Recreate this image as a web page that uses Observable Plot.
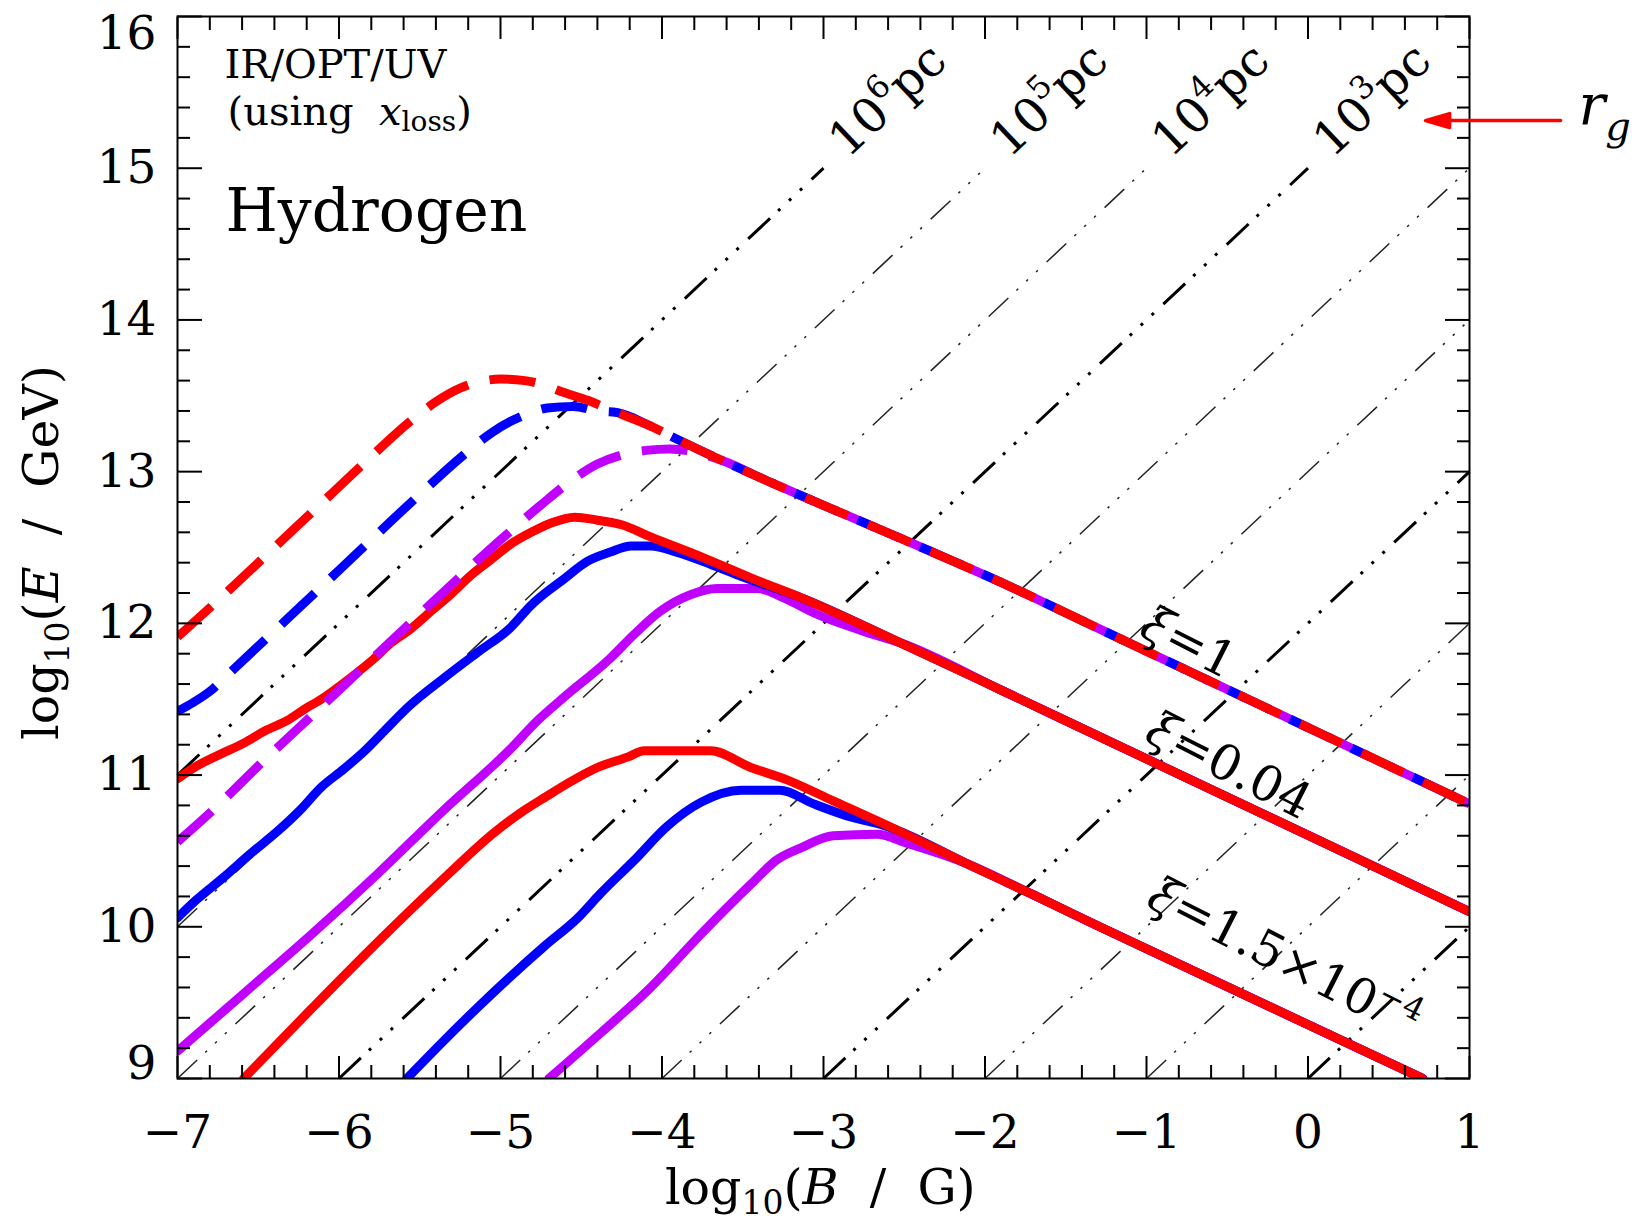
<!DOCTYPE html>
<html>
<head>
<meta charset="utf-8">
<script src="https://cdn.jsdelivr.net/npm/d3@7"></script>
<script src="https://cdn.jsdelivr.net/npm/@observablehq/plot@0.6"></script>
<style>
  html, body { margin: 0; padding: 0; background: #fff; }
  #chart svg { display: block; }
</style>
</head>
<body>
<div id="chart"></div>
<script>
// ---------------- data ----------------
const xDomain = [-7, 1];          // log10(B / G)
const yDomain = [9, 16];          // log10(E / GeV)
const xMajor = [-7, -6, -5, -4, -3, -2, -1, 0, 1];
const yMajor = [9, 10, 11, 12, 13, 14, 15, 16];

// gyroradius lines: log10(r_g / pc); E/B offset for r = 1 pc
const rgLogRadiusPc = [6, 5, 4, 3, 2, 1, 0, -1, -2, -3];
const rgLabelled = [6, 5, 4, 3];
const rgOffset = 12;
const rgTopE = 15;

const colors = {red: "#ff0000", blue: "#0000ff", purple: "#c000ff"};

// xi = 1 (dashed)
const xi1Red = [[-7,11.91],[-6.70,12.20],[-6.41,12.49],[-6.12,12.78],[-5.84,13.06],[-5.56,13.33],[-5.40,13.46],[-5.25,13.55],[-5.14,13.59],[-5.0,13.61],[-4.85,13.60],[-4.73,13.57],[-4.63,13.53],[-4.46,13.47],[-4.28,13.39],[-4.07,13.30],[-3.90,13.21],[-3.35,12.94],[-2.50,12.55],[-1.90,12.27],[-1.285,11.96],[1,10.81]];
const xi1Blue = [[-7,11.42],[-6.9,11.48],[-6.79,11.56],[-6.69,11.66],[-6.0,12.35],[-5.5,12.85],[-5.25,13.09],[-5.05,13.26],[-4.94,13.33],[-4.81,13.39],[-4.71,13.42],[-4.55,13.43],[-4.40,13.40],[-4.28,13.39],[-4.07,13.30],[-3.90,13.21],[-3.35,12.94],[-2.50,12.55],[-1.90,12.27],[-1.285,11.96],[1,10.81]];
const xi1Purple = [[-7,10.56],[-6.8,10.75],[-6.5,11.06],[-6.0,11.56],[-5.5,12.06],[-5.0,12.55],[-4.75,12.78],[-4.55,12.95],[-4.40,13.05],[-4.25,13.11],[-4.10,13.14],[-3.95,13.15],[-3.80,13.13],[-3.62,13.07],[-3.35,12.94],[-2.50,12.55],[-1.90,12.27],[-1.285,11.96],[1,10.81]];

// xi = 0.04 (solid)
const xi004Red = [[-7,10.975],[-6.88,11.06],[-6.73,11.14],[-6.59,11.21],[-6.46,11.29],[-6.32,11.36],[-6.22,11.43],[-6.11,11.50],[-5.93,11.64],[-5.78,11.77],[-5.68,11.87],[-5.56,11.96],[-5.43,12.08],[-5.31,12.19],[-5.18,12.32],[-5.06,12.42],[-4.94,12.52],[-4.81,12.60],[-4.69,12.66],[-4.54,12.70],[-4.40,12.68],[-4.25,12.65],[-4.07,12.57],[-3.76,12.44],[-3.45,12.30],[-3.14,12.17],[-2.52,11.87],[-1.90,11.56],[-1.285,11.25],[1,10.10]];
const xi004Blue = [[-7,10.06],[-6.88,10.18],[-6.71,10.33],[-6.55,10.48],[-6.38,10.63],[-6.24,10.77],[-6.11,10.92],[-5.97,11.04],[-5.84,11.16],[-5.72,11.29],[-5.56,11.46],[-5.35,11.64],[-5.14,11.81],[-4.94,11.97],[-4.81,12.12],[-4.61,12.29],[-4.46,12.41],[-4.32,12.47],[-4.19,12.51],[-4.07,12.51],[-3.91,12.47],[-3.70,12.39],[-3.51,12.31],[-3.14,12.17],[-2.52,11.87],[-1.90,11.56],[-1.285,11.25],[1,10.10]];
const xi004Purple = [[-7,9.18],[-6.59,9.56],[-6.17,9.95],[-5.76,10.35],[-5.35,10.77],[-4.94,11.17],[-4.77,11.36],[-4.61,11.51],[-4.32,11.77],[-4.17,11.93],[-4.01,12.08],[-3.82,12.19],[-3.66,12.23],[-3.41,12.23],[-3.25,12.17],[-3.04,12.06],[-2.73,11.94],[-2.52,11.87],[-1.90,11.56],[-1.285,11.25],[1,10.10]];

// xi = 1.5e-4 (solid)
const xi15Red = [[-6.59,9.0],[-6.17,9.46],[-5.76,9.90],[-5.35,10.32],[-5.04,10.62],[-4.85,10.77],[-4.73,10.85],[-4.56,10.96],[-4.42,11.04],[-4.21,11.12],[-4.11,11.16],[-3.70,11.16],[-3.45,11.05],[-3.23,10.97],[-2.94,10.83],[-2.53,10.63],[-2.12,10.42],[-1.70,10.21],[-1.29,10.00],[0.71,9.0]];
const xi15Blue = [[-5.58,9.0],[-5.35,9.25],[-5.14,9.47],[-4.94,9.67],[-4.73,9.87],[-4.52,10.06],[-4.38,10.22],[-4.17,10.44],[-3.97,10.66],[-3.76,10.82],[-3.51,10.90],[-3.27,10.90],[-3.06,10.81],[-2.82,10.72],[-2.63,10.67],[-2.53,10.63],[-2.12,10.42],[-1.70,10.21],[-1.29,10.00],[0.71,9.0]];
const xi15Purple = [[-4.70,9.0],[-4.38,9.30],[-4.07,9.60],[-3.76,9.95],[-3.45,10.28],[-3.29,10.44],[-3.14,10.52],[-2.94,10.60],[-2.67,10.61],[-2.48,10.55],[-2.22,10.46],[-2.12,10.42],[-1.70,10.21],[-1.29,10.00],[0.71,9.0]];

// labels
const xiLabels = [
  {text: "ξ = 1", x: -0.74, y: 11.87},
  {text: "ξ = 0.04", x: -0.49, y: 11.06},
  {text: "ξ = 1.5×10^-4", x: -0.15, y: 9.79}
];
const panelTexts = [
  {text: "IR/OPT/UV", x: -6.709, y: 15.592, size: 40},
  {text: "(using xloss)", x: -6.69, y: 15.288, size: 40},
  {text: "Hydrogen", x: -6.703, y: 14.589, size: 60}
];
const rgArrow = {x: 1.564, y: 15.314, length: 135};
const rgSymbol = {text: "r_g", x: 1.675, y: 15.29};
const xTitle = {text: "log10(B / G)", x: -3.02, y: 8.17};
const yTitle = {text: "log10(E / GeV)", x: -7.743, y: 12.467};

// ---------------- derived ----------------
const xMinor = d3.range(0, 41).map(i => +(xDomain[0] + i * 0.2).toFixed(1)).filter(v => !Number.isInteger(v));
const yMinor = d3.range(0, 36).map(i => +(yDomain[0] + i * 0.2).toFixed(1)).filter(v => !Number.isInteger(v));

const rgSegs = rgLogRadiusPc.map(lr => {
  const c = lr + rgOffset;
  const x1 = Math.max(xDomain[0], yDomain[0] - c);
  const x2 = Math.min(xDomain[1], rgTopE - c);
  return {lr, x1, y1: x1 + c, x2, y2: x2 + c, bold: lr % 3 === 0};
});

const W = 9;
function curveMark(pts, color, dashed) {
  const o = {x: d => d[0], y: d => d[1], stroke: color, strokeWidth: W, curve: "monotone-x", clip: true, strokeLinejoin: "round"};
  if (dashed) { o.strokeDasharray = "46,22"; o.strokeLinecap = "butt"; }
  else { o.strokeLinecap = "round"; }
  return Plot.line(pts, o);
}

const fs = 47;
const chart = Plot.plot({
  width: 1632, height: 1224,
  marginLeft: 177, marginRight: 163, marginTop: 16, marginBottom: 146,
  x: {domain: xDomain},
  y: {domain: yDomain},
  style: {fontFamily: "'DejaVu Serif', serif", background: "#fff", color: "#000"},
  marks: [
    // gyroradius lines
    Plot.link(rgSegs.filter(d => !d.bold), {x1: "x1", y1: "y1", x2: "x2", y2: "y2", stroke: "#222", strokeWidth: 1.5, strokeDasharray: "27,11,2.5,11,2.5,11,2.5,12"}),
    Plot.link(rgSegs.filter(d => d.bold), {x1: "x1", y1: "y1", x2: "x2", y2: "y2", stroke: "#000", strokeWidth: 3, strokeDasharray: "30,11,3,12,3,12,3,13"}),
    // solid curves
    curveMark(xi15Purple, colors.purple), curveMark(xi15Blue, colors.blue), curveMark(xi15Red, colors.red),
    curveMark(xi004Purple, colors.purple), curveMark(xi004Blue, colors.blue), curveMark(xi004Red, colors.red),
    // dashed curves
    curveMark(xi1Purple, colors.purple, true), curveMark(xi1Blue, colors.blue, true), curveMark(xi1Red, colors.red, true),
    // frame and ticks
    Plot.frame({stroke: "#000", strokeWidth: 2}),
    Plot.axisX(xMajor, {anchor: "bottom", tickSize: -22, strokeWidth: 2, fill: "none", label: null}),
    Plot.axisX(xMinor, {anchor: "bottom", tickSize: -13, strokeWidth: 2, fill: "none", label: null}),
    Plot.axisX(xMajor, {anchor: "top", tickSize: -22, strokeWidth: 2, fill: "none", label: null}),
    Plot.axisX(xMinor, {anchor: "top", tickSize: -13, strokeWidth: 2, fill: "none", label: null}),
    Plot.axisY(yMajor, {anchor: "left", tickSize: -25, strokeWidth: 2, fill: "none", label: null}),
    Plot.axisY(yMinor, {anchor: "left", tickSize: -13, strokeWidth: 2, fill: "none", label: null}),
    Plot.axisY(yMajor, {anchor: "right", tickSize: -25, strokeWidth: 2, fill: "none", label: null}),
    Plot.axisY(yMinor, {anchor: "right", tickSize: -13, strokeWidth: 2, fill: "none", label: null}),
    // tick labels
    Plot.axisX(xMajor, {anchor: "bottom", tickSize: 0, tickPadding: 36, fontSize: fs, label: null, tickFormat: d3.format("d")}),
    Plot.text(yMajor.filter(v => v > yDomain[0] && v < yDomain[1]), {x: xDomain[0], y: d => d, text: d => String(d), dx: -21, textAnchor: "end", lineAnchor: "middle", fontSize: fs}),
    Plot.text(yMajor.filter(v => v === yDomain[1]), {x: xDomain[0], y: d => d, text: d => String(d), dx: -21, dy: 17, textAnchor: "end", lineAnchor: "middle", fontSize: fs}),
    Plot.text(yMajor.filter(v => v === yDomain[0]), {x: xDomain[0], y: d => d, text: d => String(d), dx: -21, dy: -15, textAnchor: "end", lineAnchor: "middle", fontSize: fs}),
    // axis titles
    Plot.text([xTitle], {x: "x", y: "y", text: "text", textAnchor: "middle", lineAnchor: "bottom", fontSize: fs + 2}),
    Plot.text([yTitle], {x: "x", y: "y", text: "text", textAnchor: "middle", lineAnchor: "bottom", rotate: -90, fontSize: fs + 2}),
    // panel annotations
    Plot.text(panelTexts.slice(0, 2), {x: "x", y: "y", text: "text", fontSize: d => d.size, textAnchor: "start", lineAnchor: "bottom", letterSpacing: "1.5px"}),
    Plot.text(panelTexts.slice(2), {x: "x", y: "y", text: "text", fontSize: d => d.size, textAnchor: "start", lineAnchor: "bottom"}),
    // r_g labels
    Plot.text(rgSegs.filter(d => rgLabelled.includes(d.lr)), {x: d => d.x2 + 0.15, y: d => d.y2 + 0.06, text: d => `10^${d.lr}pc`, rotate: -43.2, textAnchor: "start", lineAnchor: "bottom", fontSize: 48}),
    // xi labels
    Plot.text(xiLabels, {x: "x", y: "y", text: "text", rotate: 27, textAnchor: "middle", lineAnchor: "middle", fontSize: 49}),
    // r_g arrow + symbol
    Plot.vector([rgArrow], {x: "x", y: "y", length: rgArrow.length, rotate: -90, anchor: "start", stroke: colors.red, fill: colors.red, strokeWidth: 3.5,
      shape: {draw(ctx, l) { ctx.moveTo(0, 0); ctx.lineTo(0, -l + 10); ctx.moveTo(-7, -l + 24); ctx.lineTo(0, -l); ctx.lineTo(7, -l + 24); ctx.closePath(); }}}),
    Plot.text([rgSymbol], {x: "x", y: "y", text: "text", textAnchor: "start", lineAnchor: "bottom", fontSize: 56})
  ]
});

document.getElementById("chart").appendChild(chart);

// ---------------- rich text (italics, sub/superscripts) ----------------
const NS = "http://www.w3.org/2000/svg";
function rich(el, parts) {
  el.textContent = "";
  let shift = 0;
  for (const p of parts) {
    const ts = document.createElementNS(NS, "tspan");
    ts.textContent = p.t;
    if (p.it) ts.setAttribute("font-style", "italic");
    if (p.size) ts.setAttribute("font-size", p.size);
    const target = p.shift || 0;
    if (target !== shift) { ts.setAttribute("dy", target - shift); shift = target; }
    el.appendChild(ts);
  }
}
chart.querySelectorAll("text").forEach(el => {
  const s = el.textContent;
  let m;
  if (s === "log10(E / GeV)") {
    rich(el, [{t: "log"}, {t: "10", size: 33, shift: 11}, {t: "("}, {t: "E", it: true}, {t: "  /  GeV)"}]);
  } else if (s === "log10(B / G)") {
    rich(el, [{t: "log"}, {t: "10", size: 33, shift: 10}, {t: "("}, {t: "B", it: true}, {t: "  /  G)"}]);
  } else if (s === "(using xloss)") {
    rich(el, [{t: "(using  "}, {t: "x", it: true}, {t: "loss", size: 28, shift: 6}, {t: ")"}]);
  } else if ((m = s.match(/^10\^(-?\d)pc$/))) {
    rich(el, [{t: "10"}, {t: m[1], size: 32, shift: -21}, {t: "pc"}]);
  } else if (s === "ξ = 1.5×10^-4") {
    rich(el, [{t: "ξ", it: true}, {t: "=1.5×10"}, {t: "−4", size: 32, shift: -20}]);
  } else if ((m = s.match(/^ξ = (.*)$/))) {
    rich(el, [{t: "ξ", it: true}, {t: "=" + m[1]}]);
  } else if (s === "r_g") {
    rich(el, [{t: "r", it: true}, {t: "g", it: true, size: 40, shift: 16}]);
  }
});
</script>
</body>
</html>
